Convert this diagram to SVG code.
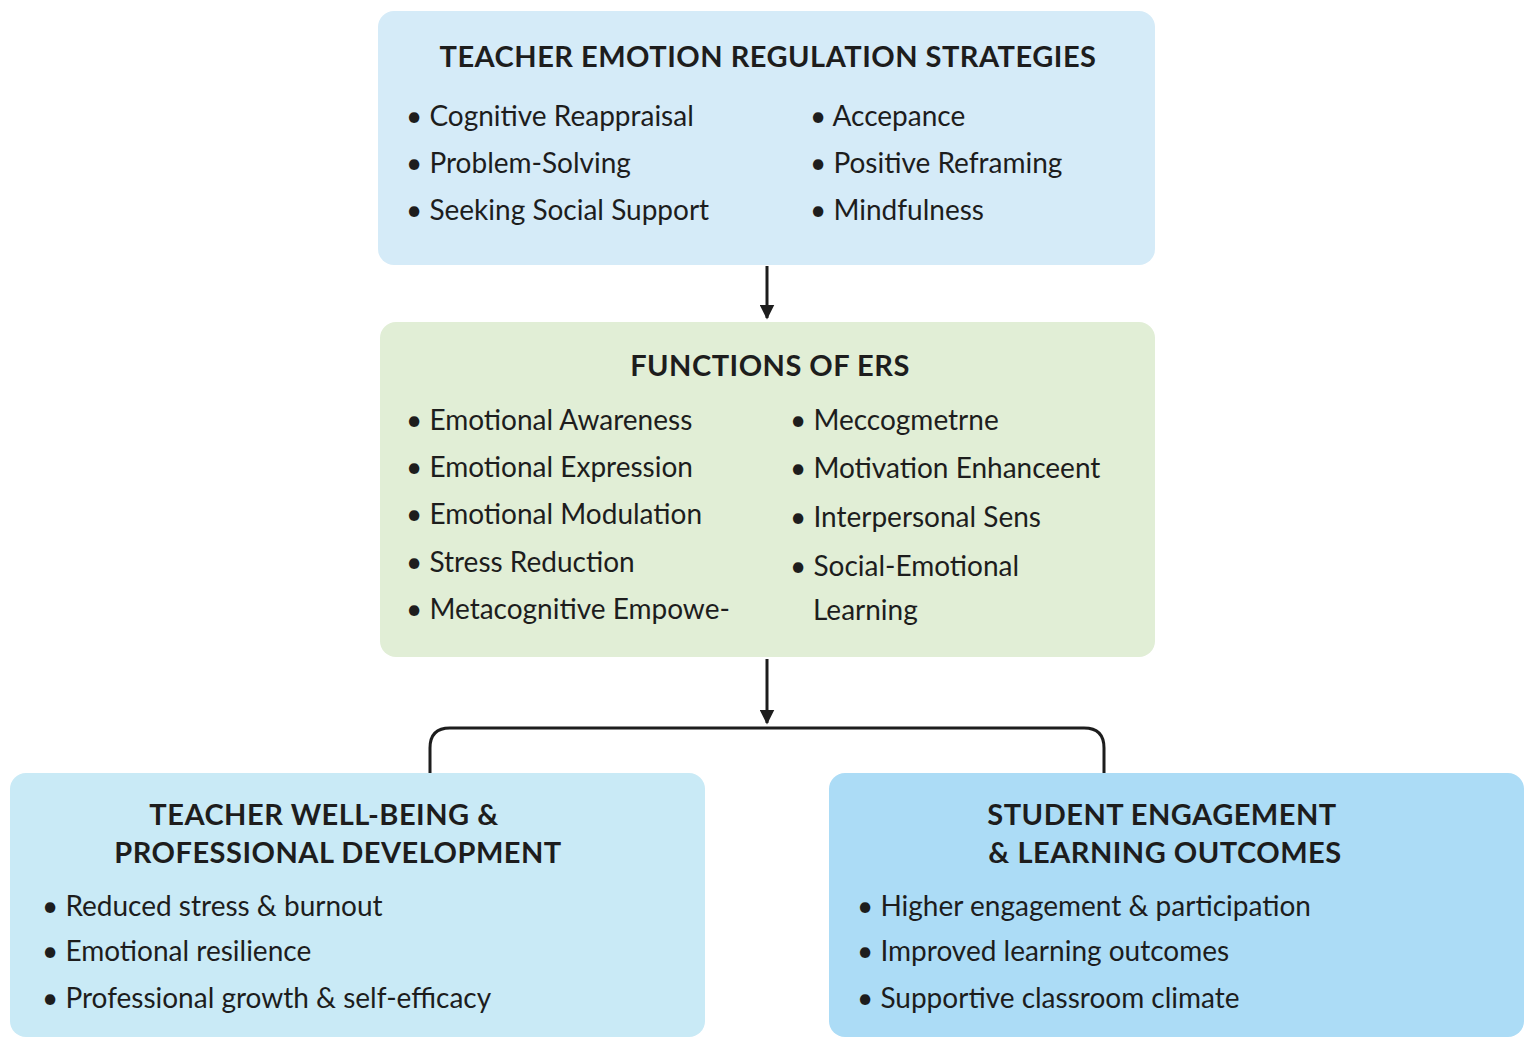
<svg xmlns="http://www.w3.org/2000/svg" width="1535" height="1047" viewBox="0 0 1535 1047">
<style>
text{font-family:Lato,"Open Sans",sans-serif;fill:#1d1d1d}
.t{font-size:29px;font-weight:bold;text-anchor:middle;letter-spacing:0.5px}
.b{font-size:28px}
.c{fill:none;stroke:#1d1d1d;stroke-width:3}
</style>
<defs>
<marker id="a" viewBox="0 0 10 10" refX="9" refY="5" markerWidth="5" markerHeight="5" orient="auto"><path d="M0,0L10,5L0,10z" fill="#1d1d1d"/></marker>
</defs>
<rect width="1535" height="1047" fill="#fff"/>
<g id="connectors">
<path class="c" d="M767,266V318" marker-end="url(#a)"/>
<path class="c" d="M767,659V723" marker-end="url(#a)"/>
<path class="c" d="M430,773V748Q430,728 450,728H1084Q1104,728 1104,748V773"/>
</g>
<g id="ers">
<rect x="378" y="11" width="777" height="254" rx="16" fill="#d5ebf8"/>
<text class="t" x="768" y="67">TEACHER EMOTION REGULATION STRATEGIES</text>
<text class="b" x="406" y="126">• Cognitive Reappraisal</text>
<text class="b" x="406" y="173">• Problem-Solving</text>
<text class="b" x="406" y="220">• Seeking Social Support</text>
<text class="b" x="810" y="126">• Accepance</text>
<text class="b" x="810" y="173">• Positive Reframing</text>
<text class="b" x="810" y="220">• Mindfulness</text>
</g>
<g id="functions">
<rect x="380" y="322" width="775" height="335" rx="16" fill="#e1eed6"/>
<text class="t" x="770" y="376">FUNCTIONS OF ERS</text>
<text class="b" x="406" y="430">• Emotional Awareness</text>
<text class="b" x="406" y="477">• Emotional Expression</text>
<text class="b" x="406" y="524">• Emotional Modulation</text>
<text class="b" x="406" y="572">• Stress Reduction</text>
<text class="b" x="406" y="619">• Metacognitive Empowe-</text>
<text class="b" x="790" y="430">• Meccogmetrne</text>
<text class="b" x="790" y="478">• Motivation Enhanceent</text>
<text class="b" x="790" y="527">• Interpersonal Sens</text>
<text class="b" x="790" y="576">• Social-Emotional</text>
<text class="b" x="813" y="620">Learning</text>
</g>
<g id="teacher">
<rect x="10" y="773" width="695" height="264" rx="16" fill="#c9eaf6"/>
<text class="t" x="324" y="825">TEACHER WELL-BEING &amp;</text>
<text class="t" x="338" y="863">PROFESSIONAL DEVELOPMENT</text>
<text class="b" x="42" y="916">• Reduced stress &amp; burnout</text>
<text class="b" x="42" y="961">• Emotional resilience</text>
<text class="b" x="42" y="1008">• Professional growth &amp; self-efficacy</text>
</g>
<g id="student">
<rect x="829" y="773" width="695" height="264" rx="16" fill="#acdcf6"/>
<text class="t" x="1162" y="825">STUDENT ENGAGEMENT</text>
<text class="t" x="1165" y="863">&amp; LEARNING OUTCOMES</text>
<text class="b" x="857" y="916">• Higher engagement &amp; participation</text>
<text class="b" x="857" y="961">• Improved learning outcomes</text>
<text class="b" x="857" y="1008">• Supportive classroom climate</text>
</g>
</svg>
